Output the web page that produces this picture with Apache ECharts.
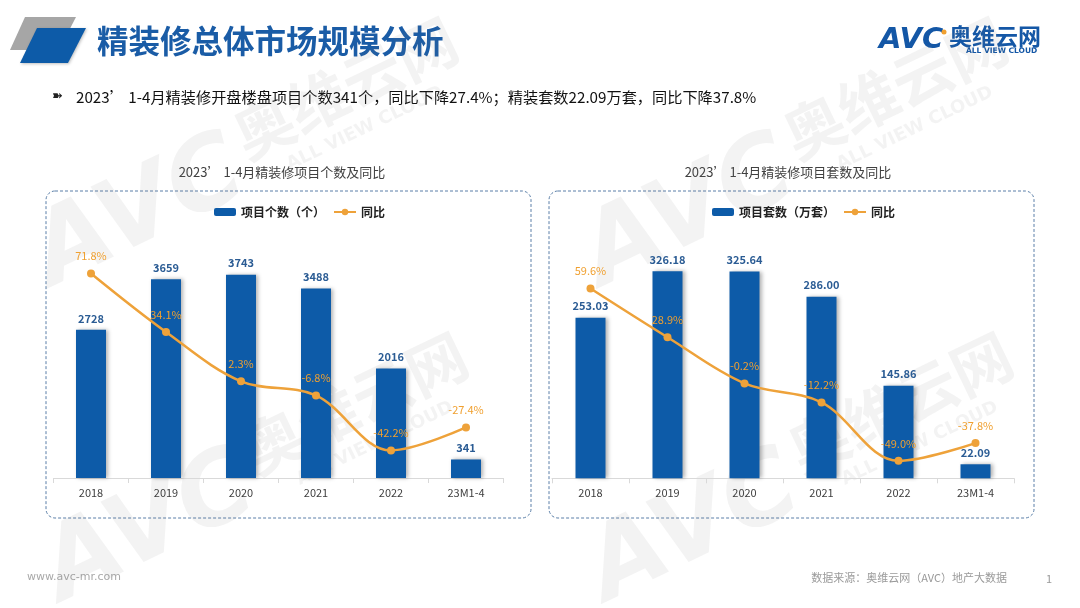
<!DOCTYPE html>
<html>
<head>
<meta charset="utf-8">
<script src="https://cdn.jsdelivr.net/npm/echarts@6/dist/echarts.min.js"></script>
<style>
html,body{margin:0;padding:0;background:#fff;}
#main{width:1080px;height:608px;}
</style>
</head>
<body>
<div id="main"></div>
<script>
var categories = ['2018', '2019', '2020', '2021', '2022', '23M1-4'];
var projectCounts = [2728, 3659, 3743, 3488, 2016, 341];
var countYoY = [71.8, 34.1, 2.3, -6.8, -42.2, -27.4];
var unitCounts = [253.03, 326.18, 325.64, 286.00, 145.86, 22.09];
var unitYoY = [59.6, 28.9, -0.2, -12.2, -49.0, -37.8];

var BLUE = '#0D5BA8';
var ORANGE = '#EEA23A';
var FONT = '"Noto Sans CJK SC", "Noto Sans", sans-serif';

var chart = echarts.init(document.getElementById('main'), null, {renderer: 'canvas'});

function watermark(x, y) {
  var c = 'rgba(120,120,120,0.09)';
  return {
    type: 'group', x: x, y: y, rotation: 0.45, z: 100, silent: true,
    children: [
      {type: 'text', x: 0, y: 0, style: {text: 'AVC', font: 'italic bold 100px "DejaVu Sans", sans-serif', fill: c, textAlign: 'center', textVerticalAlign: 'middle'}},
      {type: 'text', x: 240, y: -25, style: {text: '奥维云网', font: 'bold 60px "Noto Sans CJK SC", sans-serif', fill: c, textAlign: 'center', textVerticalAlign: 'middle'}},
      {type: 'text', x: 240, y: 20, style: {text: 'ALL VIEW CLOUD', font: 'bold 18px "DejaVu Sans", sans-serif', fill: c, textAlign: 'center', textVerticalAlign: 'middle'}}
    ]
  };
}

var graphics = [
  // header shapes
  {type: 'polygon', shape: {points: [[25, 17], [76, 17], [59, 50], [10, 50]]}, style: {fill: '#A6A6A6'}, z: 1},
  {type: 'polygon', shape: {points: [[37, 28], [86, 28], [68, 63], [20, 63]]}, style: {fill: BLUE, shadowBlur: 3, shadowColor: 'rgba(0,0,0,0.25)', shadowOffsetX: 1, shadowOffsetY: 1}, z: 2},
  {type: 'text', x: 97, y: 41, style: {text: '精装修总体市场规模分析', font: 'bold 31.5px ' + FONT, fill: '#1A5CA6', textVerticalAlign: 'middle'}},
  // logo
  {type: 'text', x: 879, y: 40, style: {text: 'AVC', font: 'italic bold 29px "DejaVu Sans", sans-serif', fill: '#1457A6', textVerticalAlign: 'middle'}},
  {type: 'circle', shape: {cx: 944, cy: 32, r: 2.5}, style: {fill: '#F0A030'}},
  {type: 'text', x: 949, y: 36, style: {text: '奥维云网', font: 'bold 23px ' + FONT, fill: '#1457A6', textVerticalAlign: 'middle'}},
  {type: 'text', x: 966, y: 51, style: {text: 'ALL VIEW CLOUD', font: 'bold 7.5px "DejaVu Sans", sans-serif', fill: '#1457A6', textVerticalAlign: 'middle'}},
  // subtitle
  {type: 'text', x: 52, y: 97, style: {text: '➽', font: '13px "DejaVu Sans", sans-serif', fill: '#222', textVerticalAlign: 'middle'}},
  {type: 'text', x: 76, y: 97, style: {text: '2023’ 1-4月精装修开盘楼盘项目个数341个，同比下降27.4%；精装套数22.09万套，同比下降37.8%', font: '15.2px ' + FONT, fill: '#111', textVerticalAlign: 'middle'}},
  // chart titles
  {type: 'text', x: 282, y: 172, style: {text: '2023’ 1-4月精装修项目个数及同比', font: '13px ' + FONT, fill: '#404040', textAlign: 'center', textVerticalAlign: 'middle'}},
  {type: 'text', x: 788, y: 172, style: {text: '2023’ 1-4月精装修项目套数及同比', font: '13px ' + FONT, fill: '#404040', textAlign: 'center', textVerticalAlign: 'middle'}},
  // dashed boxes
  {type: 'rect', shape: {x: 46, y: 191, width: 485, height: 327, r: 9}, style: {fill: 'none', stroke: '#5B7FA8', lineWidth: 1, lineDash: [3, 2]}},
  {type: 'rect', shape: {x: 549, y: 191, width: 485, height: 327, r: 9}, style: {fill: 'none', stroke: '#5B7FA8', lineWidth: 1, lineDash: [3, 2]}},
  // footer
  {type: 'text', x: 27, y: 577, style: {text: 'www.avc-mr.com', font: '11px "DejaVu Sans", sans-serif', fill: '#A8A8A8', textVerticalAlign: 'middle'}},
  {type: 'text', x: 1007, y: 578, style: {text: '数据来源：奥维云网（AVC）地产大数据', font: '11px ' + FONT, fill: '#9A9A9A', textAlign: 'right', textVerticalAlign: 'middle'}},
  {type: 'text', x: 1049, y: 579, style: {text: '1', font: '11px ' + FONT, fill: '#9A9A9A', textAlign: 'center', textVerticalAlign: 'middle'}},
  // watermarks
  watermark(140, 215), watermark(690, 215), watermark(150, 530), watermark(695, 530)
];

function barLabel(fmt) {
  return {show: true, position: 'top', distance: 6, color: '#2B5C94', fontWeight: 'bold', fontSize: 11, fontFamily: FONT, formatter: fmt};
}
function lineLabel() {
  return {show: true, position: 'top', distance: 8, color: '#F0A030', fontSize: 11, fontFamily: FONT,
    formatter: function (p) { return p.value.toFixed(1) + '%'; }};
}
var xAxisCommon = {
  type: 'category', data: categories,
  axisLine: {lineStyle: {color: '#D9D9D9'}},
  axisTick: {show: true, length: 5, lineStyle: {color: '#D9D9D9'}},
  axisLabel: {color: '#404040', fontSize: 11, fontFamily: FONT, margin: 9}
};
var barStyle = {color: BLUE, shadowColor: 'rgba(0,0,0,0.3)', shadowBlur: 4, shadowOffsetX: 2};

var option = {
  backgroundColor: '#fff',
  animation: false,
  graphic: graphics,
  legend: [
    {left: 209, top: 201, itemWidth: 22, itemHeight: 8, itemGap: 8,
      textStyle: {fontSize: 12, fontWeight: 'bold', color: '#222', fontFamily: FONT},
      data: ['项目个数（个）', '同比']},
    {left: 707, top: 201, itemWidth: 22, itemHeight: 8, itemGap: 8,
      textStyle: {fontSize: 12, fontWeight: 'bold', color: '#222', fontFamily: FONT},
      data: ['项目套数（万套）', '同比']}
  ],
  grid: [
    {left: 53.5, width: 450, top: 206.5, height: 271.5},
    {left: 552, width: 462, top: 205.3, height: 273}
  ],
  xAxis: [
    Object.assign({gridIndex: 0}, xAxisCommon),
    Object.assign({gridIndex: 1}, xAxisCommon)
  ],
  yAxis: [
    {gridIndex: 0, type: 'value', min: 0, max: 5000, show: false},
    {gridIndex: 0, type: 'value', min: -60, max: 115, show: false},
    {gridIndex: 1, type: 'value', min: 0, max: 430, show: false},
    {gridIndex: 1, type: 'value', min: -60, max: 112, show: false}
  ],
  series: [
    {name: '项目个数（个）', type: 'bar', xAxisIndex: 0, yAxisIndex: 0, data: projectCounts, barWidth: 30,
      itemStyle: barStyle, label: barLabel('{c}')},
    {name: '同比', type: 'line', xAxisIndex: 0, yAxisIndex: 1, data: countYoY, smooth: 0.35,
      symbol: 'circle', symbolSize: 8, lineStyle: {color: ORANGE, width: 2.5}, itemStyle: {color: ORANGE},
      label: lineLabel(), z: 5},
    {name: '项目套数（万套）', type: 'bar', xAxisIndex: 1, yAxisIndex: 2, data: unitCounts, barWidth: 30,
      itemStyle: barStyle, label: barLabel(function (p) { return p.value.toFixed(2); })},
    {name: '同比', type: 'line', xAxisIndex: 1, yAxisIndex: 3, data: unitYoY, smooth: 0.35,
      symbol: 'circle', symbolSize: 8, lineStyle: {color: ORANGE, width: 2.5}, itemStyle: {color: ORANGE},
      label: lineLabel(), z: 5}
  ]
};
chart.setOption(option);
</script>
</body>
</html>
